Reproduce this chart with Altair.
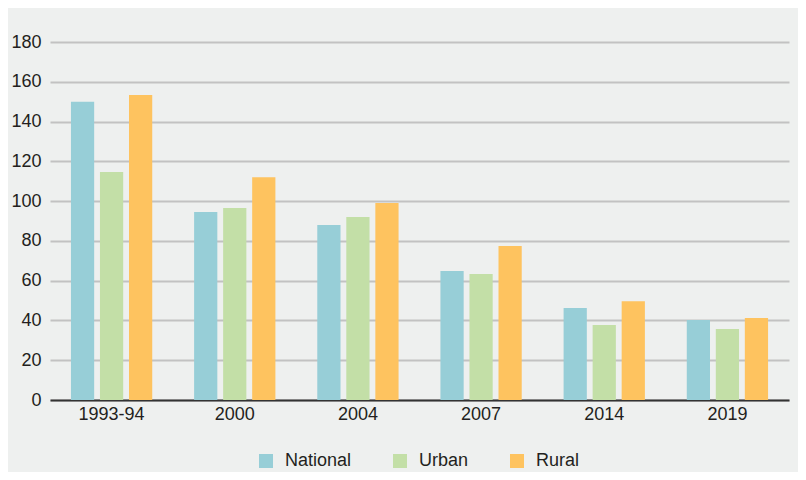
import altair as alt
import pandas as pd

years = ["1993-94", "2000", "2004", "2007", "2014", "2019"]
series = ["National", "Urban", "Rural"]
national = [150, 94.5, 88, 64.8, 46.2, 40.2]
urban = [114.6, 96.5, 92, 63.3, 37.7, 35.7]
rural = [153.3, 112, 99, 77.4, 49.7, 41.2]
colors = ["#97ced7", "#c3dfa7", "#fec35f"]

rows = []
for i, y in enumerate(years):
    for s, vals in zip(series, [national, urban, rural]):
        rows.append({"year": y, "series": s, "value": vals[i]})
df = pd.DataFrame(rows)

font = "Liberation Sans"

chart = alt.Chart(df).mark_bar().encode(
    x=alt.X("year:N", sort=years, title=None,
            scale=alt.Scale(paddingInner=0.34, paddingOuter=0.17),
            axis=alt.Axis(labelAngle=0, labelFontSize=18, labelColor="#231f20",
                          labelFont=font, ticks=False, labelPadding=5,
                          domainColor="#333333", domainWidth=2, grid=False)),
    xOffset=alt.XOffset("series:N", sort=series,
                        scale=alt.Scale(paddingInner=0.2, paddingOuter=0)),
    y=alt.Y("value:Q", title=None,
            scale=alt.Scale(domain=[0, 180], nice=False),
            axis=alt.Axis(values=list(range(0, 181, 20)), labelFontSize=18,
                          labelColor="#231f20", labelFont=font, ticks=False,
                          labelPadding=9, domain=False, gridColor="#c2c2c2",
                          gridWidth=2)),
    color=alt.Color("series:N", sort=series,
                    scale=alt.Scale(domain=series, range=colors),
                    legend=alt.Legend(title=None, orient="none", direction="horizontal",
                                      legendX=207, legendY=410,
                                      symbolType="square", symbolSize=196,
                                      symbolStrokeWidth=0, symbolOpacity=1,
                                      labelFontSize=18, labelFont=font,
                                      labelColor="#231f20", labelOffset=10,
                                      columnPadding=39)),
).properties(
    width=739, height=358,
    background="#eef0ef",
    padding={"left": 42, "top": 34, "right": 9, "bottom": 72},
    autosize=alt.AutoSizeParams(type="none"),
).configure_view(stroke=None)

chart.save("out.html", embed_options={"renderer": "svg", "actions": False})
